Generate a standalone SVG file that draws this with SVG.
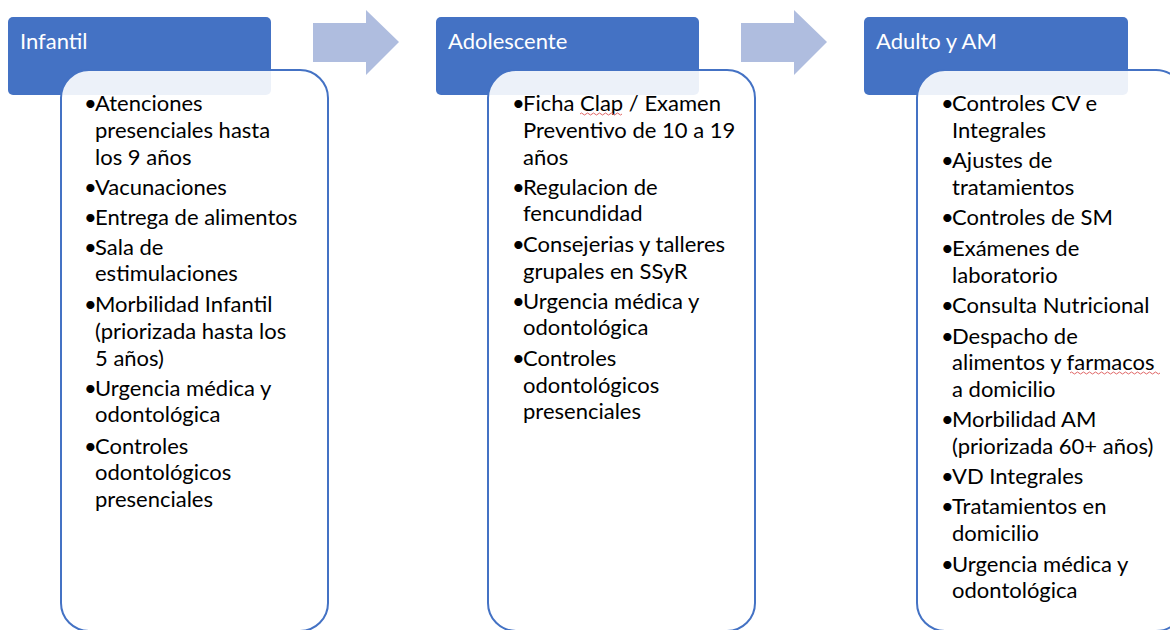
<svg xmlns="http://www.w3.org/2000/svg" width="1170" height="630" viewBox="0 0 1170 630">
<style>
.hdr{fill:#4472C4}
.box{fill:#FFFFFF;fill-opacity:0.9;stroke:#4472C4;stroke-width:2}
.arr{fill:#AFBDDF}
.ht{font-family:Lato,"Liberation Sans",sans-serif;font-size:22px;fill:#FFFFFF}
.bt{font-family:Lato,"Liberation Sans",sans-serif;font-size:22px;fill:#000000}
.wavy{fill:none;stroke:#E06666;stroke-width:1}
</style>
<rect width="1170" height="630" fill="#FFFFFF"/>
<g id="connectors">
<path class="arr" d="M313,23 H366 V10 L399,42 L366,75 V62 H313 Z"/>
<path class="arr" d="M741,23 H794 V10 L827,42 L794,75 V62 H741 Z"/>
</g>
<g id="node-infantil">
<rect class="hdr" x="8" y="17" width="263" height="78" rx="5"/>
<text class="ht" x="20" y="49">Infantil</text>
<rect class="box" x="61" y="70" width="267" height="561" rx="28"/>
<g class="bt">
<text x="84" y="111">•</text><text x="95" y="111">Atenciones</text>
<text x="95" y="138">presenciales hasta</text>
<text x="95" y="165">los 9 años</text>
<text x="84" y="195">•</text><text x="95" y="195">Vacunaciones</text>
<text x="84" y="225">•</text><text x="95" y="225">Entrega de alimentos</text>
<text x="84" y="255">•</text><text x="95" y="255">Sala de</text>
<text x="95" y="281">estimulaciones</text>
<text x="84" y="312">•</text><text x="95" y="312">Morbilidad Infantil</text>
<text x="95" y="339">(priorizada hasta los</text>
<text x="95" y="366">5 años)</text>
<text x="84" y="396">•</text><text x="95" y="396">Urgencia médica y</text>
<text x="95" y="422">odontológica</text>
<text x="84" y="454">•</text><text x="95" y="454">Controles</text>
<text x="95" y="480">odontológicos</text>
<text x="95" y="507">presenciales</text>
</g>
</g>
<g id="node-adolescente">
<rect class="hdr" x="436" y="17" width="263" height="78" rx="5"/>
<text class="ht" x="448" y="49">Adolescente</text>
<rect class="box" x="488" y="70" width="267" height="561" rx="28"/>
<g class="bt">
<text x="512" y="111">•</text><text x="523" y="111">Ficha Clap / Examen</text>
<text x="523" y="138">Preventivo de 10 a 19</text>
<text x="523" y="165">años</text>
<text x="512" y="195">•</text><text x="523" y="195">Regulacion de</text>
<text x="523" y="221">fencundidad</text>
<text x="512" y="252">•</text><text x="523" y="252">Consejerias y talleres</text>
<text x="523" y="279">grupales en SSyR</text>
<text x="512" y="309">•</text><text x="523" y="309">Urgencia médica y</text>
<text x="523" y="335">odontológica</text>
<text x="512" y="366">•</text><text x="523" y="366">Controles</text>
<text x="523" y="393">odontológicos</text>
<text x="523" y="419">presenciales</text>
</g>
<path class="wavy" d="M580,114 q1.5,-2 3,0 t3,0 t3,0 t3,0 t3,0 t3,0 t3,0 t3,0 t3,0 t3,0 t3,0 t3,0 t3,0 t3,0"/>
</g>
<g id="node-adulto">
<rect class="hdr" x="864" y="17" width="264" height="78" rx="5"/>
<text class="ht" x="876" y="49">Adulto y AM</text>
<rect class="box" x="917" y="70" width="267" height="561" rx="28"/>
<g class="bt">
<text x="941" y="111">•</text><text x="952" y="111">Controles CV e</text>
<text x="952" y="138">Integrales</text>
<text x="941" y="168">•</text><text x="952" y="168">Ajustes de</text>
<text x="952" y="195">tratamientos</text>
<text x="941" y="225">•</text><text x="952" y="225">Controles de SM</text>
<text x="941" y="256">•</text><text x="952" y="256">Exámenes de</text>
<text x="952" y="283">laboratorio</text>
<text x="941" y="313">•</text><text x="952" y="313">Consulta Nutricional</text>
<text x="941" y="344">•</text><text x="952" y="344">Despacho de</text>
<text x="952" y="370">alimentos y farmacos</text>
<text x="952" y="397">a domicilio</text>
<text x="941" y="427">•</text><text x="952" y="427">Morbilidad AM</text>
<text x="952" y="454">(priorizada 60+ años)</text>
<text x="941" y="484">•</text><text x="952" y="484">VD Integrales</text>
<text x="941" y="514">•</text><text x="952" y="514">Tratamientos en</text>
<text x="952" y="541">domicilio</text>
<text x="941" y="572">•</text><text x="952" y="572">Urgencia médica y</text>
<text x="952" y="598">odontológica</text>
</g>
<path class="wavy" d="M1070,373 q1.5,-2 3,0 t3,0 t3,0 t3,0 t3,0 t3,0 t3,0 t3,0 t3,0 t3,0 t3,0 t3,0 t3,0 t3,0 t3,0 t3,0 t3,0 t3,0 t3,0 t3,0 t3,0 t3,0 t3,0 t3,0 t3,0 t3,0 t3,0 t3,0 t3,0 t3,0"/>
</g>
</svg>
